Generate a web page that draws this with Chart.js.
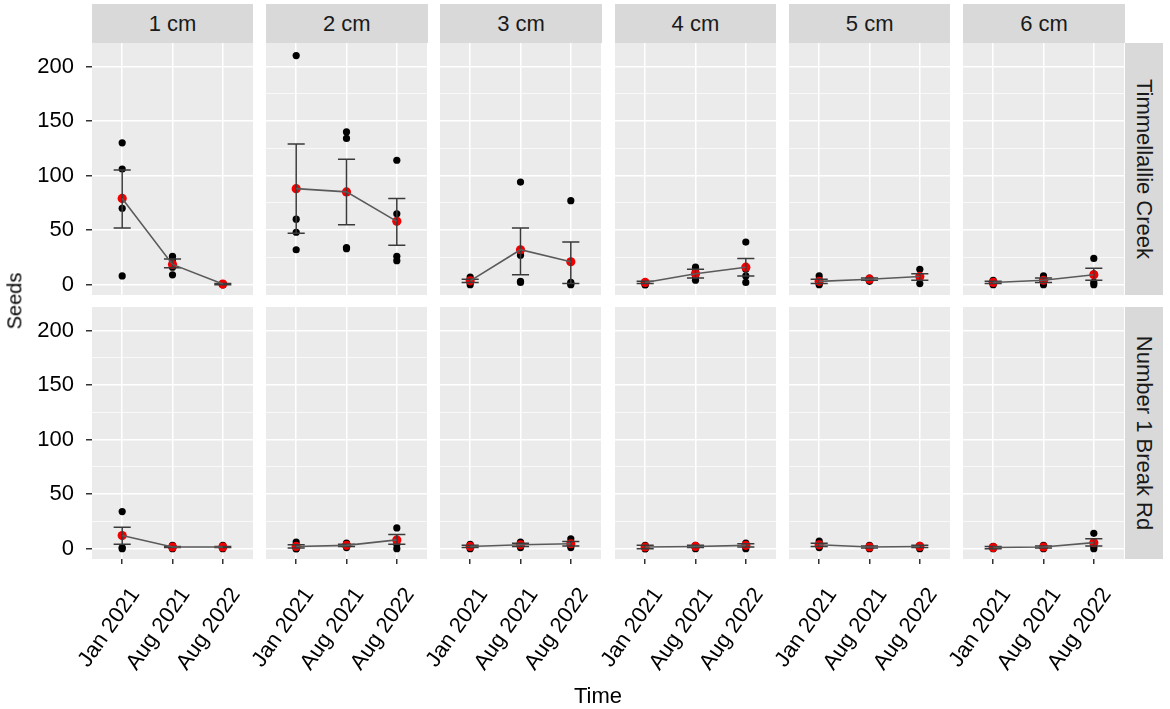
<!DOCTYPE html>
<html>
<head>
    <title>Seeds by burial depth</title>
    <script src="https://cdn.jsdelivr.net/npm/chart.js"></script>
    <style>
        body {
            margin: 0;
            width: 1170px;
            height: 709px;
            background: #fff;
            font-family: "Liberation Sans", Arial, sans-serif;
            position: relative;
            overflow: hidden;
        }
        .panel { position: absolute; }
        .strip {
            position: absolute;
            background: #d9d9d9;
            color: #1a1a1a;
            font-size: 22px;
            display: flex;
            align-items: center;
            justify-content: center;
            white-space: nowrap;
        }
        .strip.side span { transform: rotate(90deg); }
        .axis-title {
            position: absolute;
            color: #000;
            white-space: nowrap;
            line-height: 1;
        }
    </style>
</head>
<body>
<div id="grid"></div>
<div class="axis-title" style="font-size:20px; left:-14px; top:291px; transform: rotate(-90deg);">Seeds</div>
<div class="axis-title" style="font-size:22px; left:574px; top:685px;">Time</div>

<script>
    const sizes = ["1 cm", "2 cm", "3 cm", "4 cm", "5 cm", "6 cm"];
    const sites = ["Timmellallie Creek", "Number 1 Break Rd"];
    const times = ["Jan 2021", "Aug 2021", "Aug 2022"];
    const majorTicks = [0, 50, 100, 150, 200];
    const minorTicks = [25, 75, 125, 175];

    // seeds per sample, [size][time][sample]
    const creekObs = [
        [[130, 106, 70, 8], [26, 23, 16, 9], [1, 1, 0, 0]],
        [[210, 60, 48, 32], [140, 134, 34, 33], [114, 65, 26, 22]],
        [[7, 4, 2, 0], [94, 27, 3, 2], [77, 2, 1, 0]],
        [[2, 1, 0, 0], [16, 12, 6, 4], [39, 14, 8, 2]],
        [[8, 3, 1, 0], [6, 5, 4, 3], [14, 8, 6, 1]],
        [[4, 2, 1, 0], [8, 5, 3, 0], [24, 10, 2, 0]]
    ];
    const creekMean = [[79, 18.5, 0.5], [88, 85, 58], [3.5, 32, 21], [2, 10, 16], [3, 5, 7.5], [2, 4, 9]];
    const creekLow  = [[52, 15.5, 0], [47, 55, 36], [2, 9, 1], [1, 6, 8], [1, 4, 4], [1, 2, 4]];
    const creekHigh = [[105, 23.5, 1], [129, 115, 79], [5, 52, 39], [3, 14, 24], [5, 6, 10], [3, 6, 15]];

    const breakObs = [
        [[34, 12, 1, 0], [3, 2, 1, 0], [3, 2, 1, 0]],
        [[6, 2, 0, 0], [5, 3, 2, 1], [19, 8, 4, 0]],
        [[4, 2, 1, 0], [6, 4, 3, 1], [9, 5, 3, 1]],
        [[3, 1, 0, 0], [3, 2, 1, 0], [5, 3, 2, 0]],
        [[7, 4, 2, 1], [3, 2, 1, 0], [3, 2, 1, 0]],
        [[2, 1, 1, 0], [3, 1, 1, 0], [14, 6, 2, 0]]
    ];
    const breakMean = [[12, 1.5, 1.5], [2, 3, 8], [2, 3.5, 4.5], [1.5, 2, 3], [3.5, 1.5, 2], [1, 1.5, 5.5]];
    const breakLow  = [[4, 1, 1], [0.5, 2, 4], [1, 2, 2.5], [0, 1, 1.5], [2, 0.5, 1], [0, 0.5, 2.5]];
    const breakHigh = [[19.5, 2, 2], [3.5, 4, 13], [3, 5, 6.5], [3, 3, 4.5], [5, 2.5, 3], [2, 2.5, 9]];

    const rowObs = [creekObs, breakObs];
    const rowMean = [creekMean, breakMean];
    const rowLow = [creekLow, breakLow];
    const rowHigh = [creekHigh, breakHigh];

    // layout of the facet grid
    const panelLeft = 91.7, panelW = 161.6, gapX = 12.7;
    const rowTop = [43.3, 306.7], panelH = 252;
    const yAxisW = 92, xAxisH = 150;
    const font = { family: "'Liberation Sans', Arial, sans-serif", size: 22 };

    const grid = document.getElementById("grid");

    // panel background
    const bgPlugin = {
        id: "panelBg",
        beforeDraw(chart) {
            const a = chart.chartArea, ctx = chart.ctx;
            ctx.save();
            ctx.fillStyle = "#ebebeb";
            ctx.fillRect(a.left, a.top, a.right - a.left, a.bottom - a.top);
            ctx.restore();
        }
    };

    // error bars, drawn after the red mean points
    const errorBarPlugin = {
        id: "errorBars",
        afterDatasetDraw(chart, args) {
            if (args.index !== 1) return;
            const low = chart.options.plugins.errorBars.low;
            const high = chart.options.plugins.errorBars.high;
            const xs = chart.scales.x, ys = chart.scales.y, ctx = chart.ctx;
            const half = xs.getPixelForValue(1.17) - xs.getPixelForValue(1);
            ctx.save();
            ctx.strokeStyle = "#3a3a3a";
            ctx.lineWidth = 1.5;
            low.forEach((lo, i) => {
                const x = xs.getPixelForValue(i + 1);
                const yl = ys.getPixelForValue(lo), yh = ys.getPixelForValue(high[i]);
                ctx.beginPath();
                ctx.moveTo(x, yl); ctx.lineTo(x, yh);
                ctx.moveTo(x - half, yl); ctx.lineTo(x + half, yl);
                ctx.moveTo(x - half, yh); ctx.lineTo(x + half, yh);
                ctx.stroke();
            });
            ctx.restore();
        }
    };

    sites.forEach((site, r) => {
        const bottomRow = r === sites.length - 1;
        sizes.forEach((size, c) => {
            const left = panelLeft + c * (panelW + gapX);
            const firstCol = c === 0;

            if (r === 0) {
                const strip = document.createElement("div");
                strip.className = "strip";
                strip.style.cssText = `left:${left}px; top:4px; width:${panelW}px; height:39.3px;`;
                strip.textContent = size;
                grid.appendChild(strip);
            }

            const box = document.createElement("div");
            box.className = "panel";
            const w = yAxisW + panelW + 6;
            const h = panelH + (bottomRow ? xAxisH : 0);
            box.style.cssText = `left:${left - yAxisW}px; top:${rowTop[r]}px; width:${w}px; height:${h}px;`;
            const canvas = document.createElement("canvas");
            canvas.width = w;
            canvas.height = h;
            box.appendChild(canvas);
            grid.appendChild(box);

            const obs = rowObs[r][c];
            const obsPoints = [];
            obs.forEach((vals, t) => vals.forEach(v => obsPoints.push({ x: t + 1, y: v })));
            const means = rowMean[r][c].map((v, t) => ({ x: t + 1, y: v }));

            new Chart(canvas, {
                type: "scatter",
                data: {
                    datasets: [
                        {
                            type: "line",
                            data: means,
                            borderColor: "#5a5a5a",
                            borderWidth: 1.6,
                            pointRadius: 0,
                            order: 1
                        },
                        {
                            data: means,
                            backgroundColor: "#f00000",
                            borderWidth: 0,
                            pointRadius: 4.6,
                            order: 2
                        },
                        {
                            data: obsPoints,
                            backgroundColor: "#000",
                            borderWidth: 0,
                            pointRadius: 3.6,
                            order: 3
                        }
                    ]
                },
                options: {
                    responsive: false,
                    animation: false,
                    devicePixelRatio: 1,
                    layout: { autoPadding: false, padding: { left: 0, right: 6, top: 0, bottom: 0 } },
                    plugins: {
                        legend: { display: false },
                        tooltip: { enabled: false },
                        errorBars: { low: rowLow[r][c], high: rowHigh[r][c] }
                    },
                    scales: {
                        x: {
                            type: "linear",
                            min: 0.4,
                            max: 3.6,
                            afterBuildTicks: s => { s.ticks = times.map((t, i) => ({ value: i + 1 })); },
                            afterFit: s => {
                                s.height = bottomRow ? xAxisH : 0;
                                s.paddingLeft = 0;
                                s.paddingRight = 0;
                            },
                            border: { display: false },
                            grid: {
                                color: "#ffffff",
                                lineWidth: 1.5,
                                drawTicks: bottomRow,
                                tickLength: 5,
                                tickColor: "#333"
                            },
                            ticks: {
                                display: bottomRow,
                                callback: v => times[v - 1],
                                minRotation: 55,
                                maxRotation: 55,
                                padding: 19,
                                labelOffset: 13,
                                color: "#000",
                                font: font
                            }
                        },
                        y: {
                            type: "linear",
                            min: -9.5,
                            max: 221.5,
                            afterBuildTicks: s => {
                                s.ticks = majorTicks.concat(minorTicks).sort((a, b) => a - b).map(v => ({ value: v }));
                            },
                            afterFit: s => {
                                s.width = yAxisW;
                                s.paddingTop = 0;
                                s.paddingBottom = 0;
                            },
                            border: { display: false },
                            grid: {
                                color: "#ffffff",
                                lineWidth: ctx => majorTicks.includes(ctx.tick.value) ? 1.5 : 0.7,
                                drawTicks: firstCol,
                                tickLength: 6,
                                tickColor: ctx => majorTicks.includes(ctx.tick.value) ? "#333" : "rgba(0,0,0,0)"
                            },
                            ticks: {
                                display: firstCol,
                                callback: v => majorTicks.includes(v) ? v : "",
                                padding: 12,
                                color: "#000",
                                font: font
                            }
                        }
                    }
                },
                plugins: [bgPlugin, errorBarPlugin]
            });
        });

        const side = document.createElement("div");
        side.className = "strip side";
        const sideLeft = panelLeft + sizes.length * (panelW + gapX) - gapX + 0.5;
        side.style.cssText = `left:${sideLeft}px; top:${rowTop[r]}px; width:38px; height:${panelH}px;`;
        const label = document.createElement("span");
        label.textContent = site;
        side.appendChild(label);
        grid.appendChild(side);
    });
</script>
</body>
</html>
